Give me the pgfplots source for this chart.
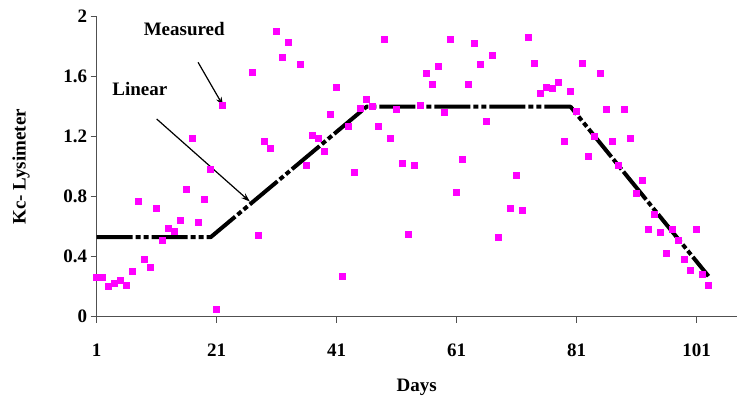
\documentclass[border=0pt]{standalone}
\usepackage{fontspec}
\setmainfont{Liberation Serif}
\usepackage{pgfplots}
\pgfplotsset{compat=1.18}
\usetikzlibrary{arrows.meta}
\definecolor{mag}{RGB}{255,0,255}
\definecolor{axgray}{RGB}{80,80,80}
\newcommand{\bigb}{\bfseries\fontsize{19}{22}\selectfont}
\begin{document}
\begin{tikzpicture}
\begin{axis}[
  at={(0,0)}, anchor=south west,
  scale only axis, width=640pt, height=300pt,
  xmin=1, xmax=107.7, ymin=0, ymax=2,
  axis x line=bottom, axis y line=left,
  axis line style={-, line width=1pt, color=axgray},
  tick align=outside, major tick length=6pt,
  tick style={axgray, line width=0.9pt},
  xtick={1,21,41,61,81,101}, xticklabels={1,21,41,61,81,101},
  ytick={0,0.4,0.8,1.2,1.6,2}, yticklabels={0,0.4,0.8,1.2,1.6,2},
  tick label style={font=\bigb},
  xticklabel style={yshift=-18pt},
  xlabel={Days}, ylabel={Kc- Lysimeter},
  label style={font=\bigb},
  x label style={at={(axis description cs:0.5,-0.235)}, anchor=center},
  y label style={at={(axis description cs:-0.1183,0.5)}, anchor=center},
  clip=false,
]
\addplot[only marks, mark=square*, mark size=3pt, color=mag] coordinates {
(1,0.26) (2,0.26) (3,0.20) (4,0.22) (5,0.24) (6,0.21) (7,0.30) (8,0.77) (9,0.38) (10,0.33)
(11,0.72) (12,0.51) (13,0.59) (14,0.57) (15,0.64) (16,0.85) (17,1.19) (18,0.63) (19,0.78) (20,0.98)
(21,0.05) (22,1.41) (27,1.63) (28,0.54) (29,1.17) (30,1.12) (31,1.90) (32,1.73) (33,1.83) (35,1.68)
(36,1.01) (37,1.21) (38,1.19) (39,1.10) (40,1.35) (41,1.53) (42,0.27) (43,1.27) (44,0.96) (45,1.39)
(46,1.45) (47,1.40) (48,1.27) (49,1.85) (50,1.19) (51,1.38) (52,1.02) (53,0.55) (54,1.01) (55,1.41)
(56,1.62) (57,1.55) (58,1.67) (59,1.36) (60,1.85) (61,0.83) (62,1.05) (63,1.55) (64,1.82) (65,1.68)
(66,1.30) (67,1.74) (68,0.53) (70,0.72) (71,0.94) (72,0.71) (73,1.86) (74,1.69) (75,1.49) (76,1.53)
(77,1.52) (78,1.56) (79,1.17) (80,1.50) (81,1.37) (82,1.69) (83,1.07) (84,1.20) (85,1.62) (86,1.38)
(87,1.17) (88,1.01) (89,1.38) (90,1.19) (91,0.82) (92,0.91) (93,0.58) (94,0.68) (95,0.56) (96,0.42)
(97,0.58) (98,0.51) (99,0.38) (100,0.31) (101,0.58) (102,0.28) (103,0.21)
};
\addplot[black, line width=4pt, line join=round,
  dash pattern=on 36pt off 3pt on 5pt off 3pt on 5pt off 3pt] coordinates {
(1,0.53) (20,0.53) (46,1.40) (80,1.40) (103,0.27)
};
\node[font=\bigb] at (axis cs:15.6,1.916) {Measured};
\node[font=\bigb] at (axis cs:8.2,1.516) {Linear};
\draw[-{Stealth[length=9pt,width=6pt]}, line width=1.2pt] (axis cs:17.9,1.696) -- (axis cs:22.1,1.405);
\draw[-{Stealth[length=9pt,width=6pt]}, line width=1.2pt] (axis cs:11,1.318) -- (axis cs:26.55,0.767);
\end{axis}
\pgfresetboundingbox
\path[use as bounding box] (-96.7pt,-81.3pt) rectangle (643.3pt,316.7pt);
\end{tikzpicture}
\end{document}
